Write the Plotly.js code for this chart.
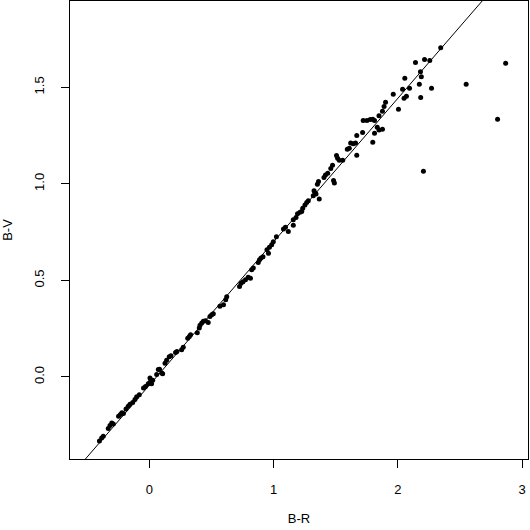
<!DOCTYPE html>
<html>
<head>
<meta charset="utf-8">
<script src="https://cdn.plot.ly/plotly-3.0.1.min.js"></script>
<style>
  html, body { margin: 0; padding: 0; background: #fff; }
  #plot { width: 530px; height: 530px; }
</style>
</head>
<body>
<div id="plot"></div>
<script>
// B-R colour index (x) and B-V colour index (y)
const brValues = [
  -0.403, -0.385, -0.372, -0.332, -0.318, -0.304, -0.291, -0.249, -0.234, -0.222,
  -0.210, -0.189, -0.171, -0.157, -0.135, -0.117, -0.103, -0.082, -0.048, -0.032,
  -0.010, 0.004, 0.017, 0.026, 0.004, 0.058, 0.071, 0.081, 0.099, 0.106,
  0.125, 0.138, 0.159, 0.173, 0.210, 0.221, 0.259, 0.272, 0.308, 0.321,
  0.331, 0.385, 0.401, 0.407, 0.421, 0.434, 0.451, 0.473, 0.487, 0.501,
  0.514, 0.567, 0.596, 0.614, 0.622, 0.725, 0.737, 0.753, 0.773, 0.795,
  0.813, 0.823, 0.836, 0.876, 0.886, 0.898, 0.914, 0.958, 0.946, 0.966,
  0.984, 0.997, 1.022, 1.079, 1.095, 1.118, 1.158, 1.158, 1.180, 1.192,
  1.212, 1.226, 1.234, 1.252, 1.266, 1.279, 1.319, 1.333, 1.325, 1.341,
  1.367, 1.352, 1.361, 1.405, 1.417, 1.435, 1.460, 1.474, 1.482, 1.489,
  1.506, 1.515, 1.528, 1.556, 1.593, 1.609, 1.620, 1.641, 1.659, 1.669,
  1.669, 1.716, 1.721, 1.751, 1.778, 1.798, 1.812, 1.798, 1.812, 1.834,
  1.848, 1.876, 1.848, 1.876, 1.889, 1.901, 1.963, 2.005, 2.038, 2.050,
  2.069, 2.056, 2.094, 2.142, 2.173, 2.182, 2.189, 2.184, 2.206, 2.215,
  2.257, 2.271, 2.345, 2.550, 2.803, 2.868
];
const bvValues = [
  -0.332, -0.316, -0.307, -0.267, -0.252, -0.239, -0.244, -0.204, -0.195, -0.186,
  -0.190, -0.166, -0.152, -0.141, -0.133, -0.117, -0.103, -0.092, -0.057, -0.049,
  -0.035, -0.027, -0.035, -0.017, -0.005, 0.012, 0.038, 0.040, 0.020, 0.016,
  0.071, 0.087, 0.105, 0.110, 0.126, 0.132, 0.141, 0.154, 0.201, 0.210,
  0.219, 0.229, 0.253, 0.268, 0.279, 0.288, 0.291, 0.282, 0.313, 0.322,
  0.327, 0.366, 0.374, 0.400, 0.415, 0.469, 0.485, 0.493, 0.503, 0.516,
  0.511, 0.555, 0.564, 0.593, 0.607, 0.616, 0.622, 0.640, 0.659, 0.672,
  0.684, 0.700, 0.726, 0.766, 0.775, 0.753, 0.785, 0.814, 0.826, 0.845,
  0.853, 0.857, 0.874, 0.891, 0.904, 0.912, 0.938, 0.953, 0.964, 0.948,
  0.921, 0.998, 1.012, 1.033, 1.046, 1.055, 1.080, 1.096, 1.018, 1.005,
  1.147, 1.133, 1.122, 1.122, 1.179, 1.184, 1.212, 1.208, 1.212, 1.148,
  1.251, 1.266, 1.328, 1.328, 1.333, 1.335, 1.328, 1.216, 1.262, 1.293,
  1.279, 1.283, 1.353, 1.376, 1.400, 1.422, 1.464, 1.386, 1.490, 1.443,
  1.454, 1.547, 1.495, 1.629, 1.516, 1.581, 1.555, 1.447, 1.065, 1.644,
  1.639, 1.495, 1.705, 1.516, 1.335, 1.624
];

// fitted relation drawn across the panel
const fitIntercept = -0.042;
const fitSlope = 0.7425;
const fitX = [-0.7, 3.1];

const xTicks = [0, 1, 2, 3];
const yTicks = [0, 0.5, 1, 1.5];
const yTickLabels = ["0.0", "0.5", "1.0", "1.5"];

const fontFamily = "Liberation Sans, Arial, Helvetica, sans-serif";

const traces = [
  {
    x: fitX,
    y: fitX.map(v => fitIntercept + fitSlope * v),
    mode: "lines",
    type: "scatter",
    line: { color: "#000", width: 1 },
    hoverinfo: "skip"
  },
  {
    x: brValues,
    y: bvValues,
    mode: "markers",
    type: "scatter",
    marker: { color: "#000", size: 5 }
  }
];

const axisStyle = {
  showgrid: false,
  zeroline: false,
  showline: true,
  mirror: true,
  linecolor: "#000",
  linewidth: 1,
  ticks: "outside",
  ticklen: 8,
  tickcolor: "#000",
  tickfont: { family: fontFamily, size: 13, color: "#000" }
};

const layout = {
  width: 530,
  height: 530,
  margin: { l: 70, r: 2, t: 1, b: 71 },
  showlegend: false,
  plot_bgcolor: "#fff",
  paper_bgcolor: "#fff",
  xaxis: Object.assign({}, axisStyle, {
    range: [-0.640, 3.048],
    tickvals: xTicks,
    ticklabelstandoff: 10,
    title: { text: "B-R", font: { family: fontFamily, size: 13, color: "#000" }, standoff: 18 }
  }),
  yaxis: Object.assign({}, axisStyle, {
    range: [-0.425, 1.947],
    tickvals: yTicks,
    ticktext: yTickLabels,
    tickangle: -90,
    ticklabelstandoff: 12,
    title: { text: "B-V", font: { family: fontFamily, size: 13, color: "#000" }, standoff: 16 }
  })
};

Plotly.newPlot("plot", traces, layout, { staticPlot: true });
</script>
</body>
</html>
